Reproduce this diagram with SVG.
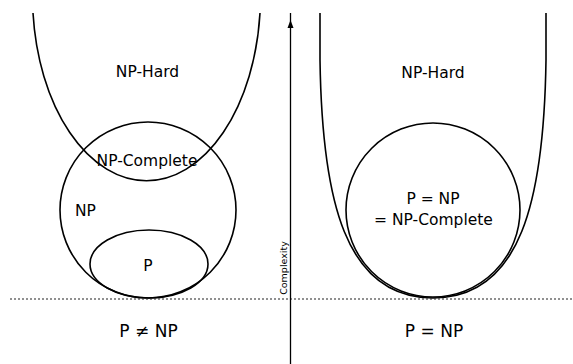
<svg xmlns="http://www.w3.org/2000/svg" width="573" height="364" viewBox="0 0 573 364">
<style>
.s{fill:none;stroke:#000;stroke-width:1.6}
.t{font-family:"DejaVu Sans",sans-serif;font-size:15.5px;fill:#000;text-anchor:middle}
.b{font-size:17px}
</style>
<rect width="573" height="364" fill="#fff"/>
<g id="left-np-hard">
<path class="s" d="M33,13 A114,185 0 0 0 260,13"/>
<text class="t" x="147.5" y="77">NP-Hard</text>
</g>
<g id="left-np">
<circle class="s" cx="148" cy="210" r="88"/>
<text class="t" x="85.5" y="216">NP</text>
</g>
<g id="left-np-complete">
<text class="t" x="147" y="166">NP-Complete</text>
</g>
<g id="left-p">
<ellipse class="s" cx="149" cy="264" rx="59" ry="34"/>
<text class="t" x="148" y="271">P</text>
</g>
<g id="left-caption">
<text class="t b" x="148.5" y="337">P ≠ NP</text>
</g>
<g id="right-np-hard">
<path class="s" d="M320,13 L320,60 C322,200 345,298 433,298 C521,298 544,200 546,60 L546,13"/>
<text class="t" x="433" y="78">NP-Hard</text>
</g>
<g id="right-p-np-npc">
<circle class="s" cx="433" cy="210" r="87"/>
<text class="t" x="433" y="204">P = NP</text>
<text class="t" x="433.5" y="225">= NP-Complete</text>
</g>
<g id="right-caption">
<text class="t b" x="434" y="337">P = NP</text>
</g>
<g id="connectors">
<line x1="10" y1="299" x2="573" y2="299" stroke="#222" stroke-width="1.2" stroke-dasharray="2,2"/>
<line x1="290.5" y1="13" x2="290.5" y2="364" stroke="#000" stroke-width="1.3"/>
<polygon points="290.5,20 287.5,28 293.5,28" fill="#000"/>
<text x="287" y="268" font-family="DejaVu Sans,sans-serif" font-size="9.5" text-anchor="middle" transform="rotate(-90 287 268)">Complexity</text>
</g>
</svg>
